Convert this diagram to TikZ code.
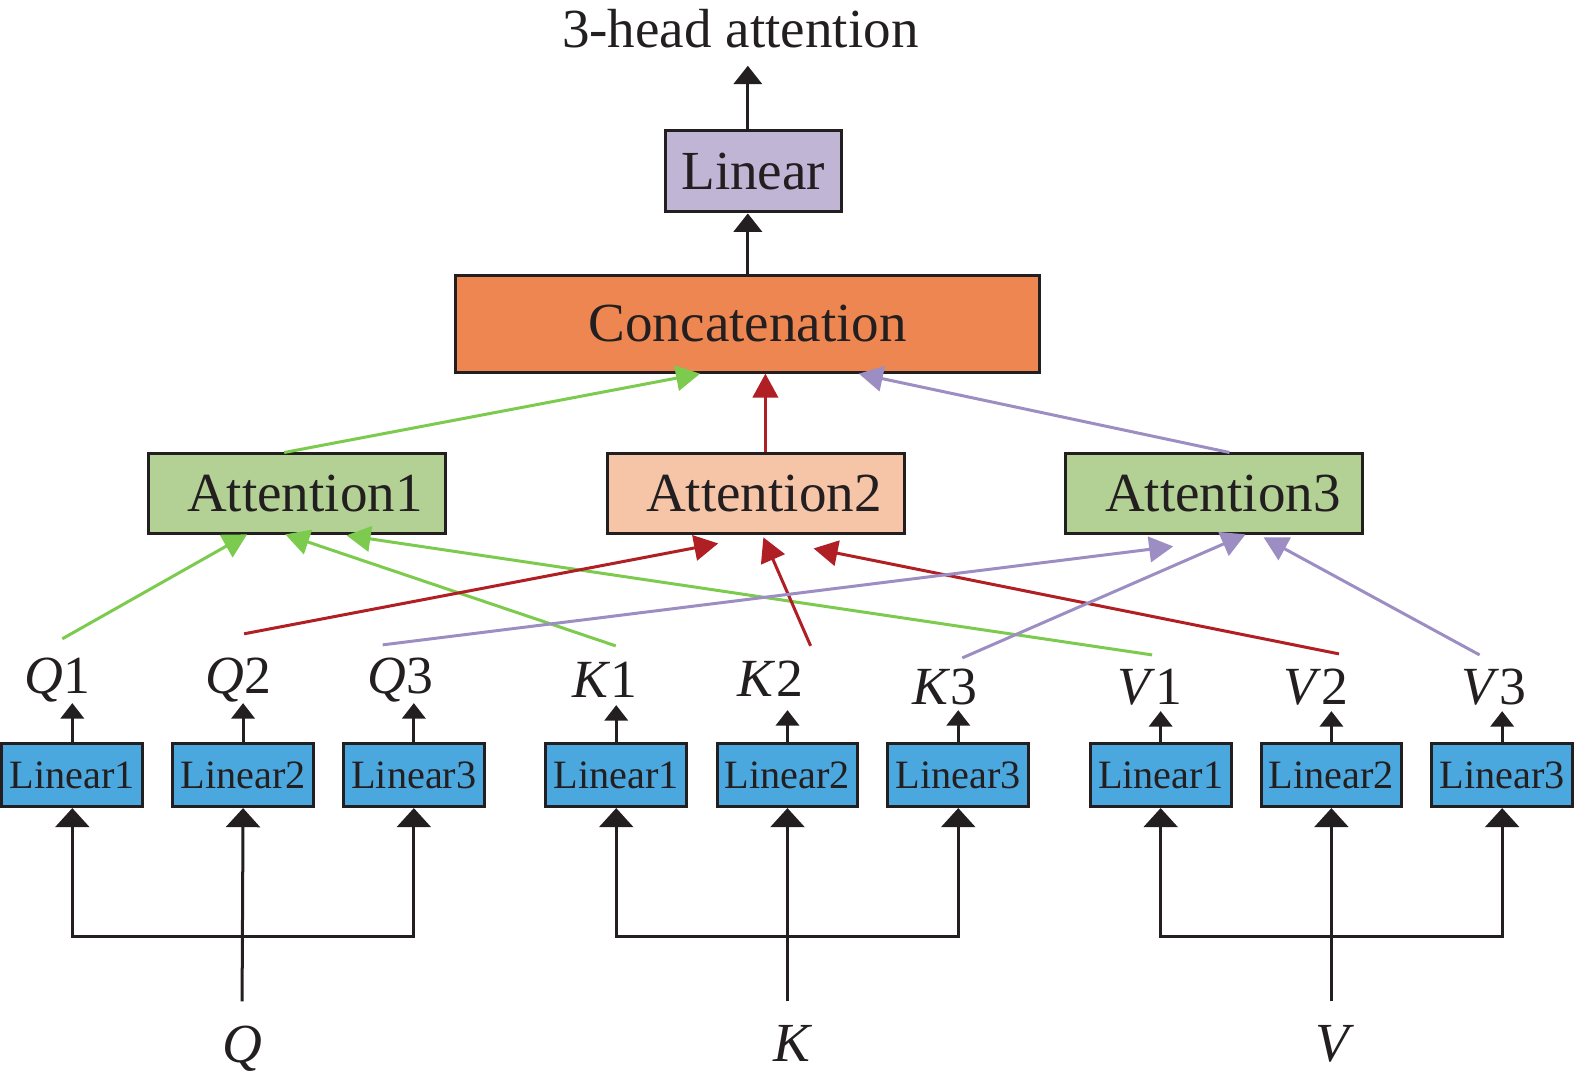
\documentclass[tikz,border=0pt]{standalone}
\usepackage{fontspec}
\setmainfont{Liberation Serif}
\usetikzlibrary{arrows.meta}
\definecolor{txt}{HTML}{231F20}
\definecolor{linblue}{HTML}{4BA8DE}
\definecolor{linpurple}{HTML}{C1B5D6}
\definecolor{concatc}{HTML}{ED8651}
\definecolor{attgreen}{HTML}{B3D194}
\definecolor{attpeach}{HTML}{F6C5A8}
\definecolor{lgreen}{HTML}{7CCB4F}
\definecolor{lred}{HTML}{AF1F24}
\definecolor{lpurple}{HTML}{9C8DC3}
\begin{document}
\begin{tikzpicture}[x=0.01cm,y=-0.01cm,
  bigfont/.style={font=\fontsize{15.6}{18}\selectfont},
  boxbase/.style={draw=txt, line width=0.85pt, inner sep=0pt, text=txt},
  linbox/.style={boxbase, fill=linblue, minimum width=1.40cm, minimum height=0.63cm, font=\fontsize{11.4}{13}\selectfont},
  attbox/.style={boxbase, bigfont, minimum width=2.95cm, minimum height=0.79cm},
  lbl/.style={inner sep=0pt, text=txt, font=\fontsize{15.2}{18}\selectfont, anchor=base},
  blksmall/.style={draw=txt, line width=0.85pt, -{Triangle[length=4.4pt,width=6.6pt]}},
  blkbig/.style={draw=txt, line width=0.85pt, -{Triangle[length=5.4pt,width=9.6pt]}},
  blkboth/.style={draw=txt, line width=0.85pt, {Triangle[length=5.4pt,width=9.6pt]}-{Triangle[length=5.4pt,width=9.6pt]}},
  blkmid/.style={draw=txt, line width=0.85pt, -{Triangle[length=5.2pt,width=8pt]}},
  colarr/.style={line width=0.85pt, -{Triangle[length=6.8pt,width=7.2pt]}},
  garr/.style={colarr, draw=lgreen, fill=lgreen},
  rarr/.style={colarr, draw=lred, fill=lred},
  parr/.style={colarr, draw=lpurple, fill=lpurple}
]
\useasboundingbox (0,0) rectangle (1568,1073);

% title and top boxes
\node[lbl, bigfont] (title) at (737,47) {3-head attention};
\node[boxbase, bigfont, fill=linpurple, minimum width=1.75cm, minimum height=0.81cm] (topl) at (750,170.5) {Linear};
\node[boxbase, bigfont, fill=concatc, minimum width=5.81cm, minimum height=0.97cm] (concat) at (744.5,322.5) {Concatenation};

\node[attbox, fill=attgreen] (att1) at (295.5,491.5) {\hspace*{0.16cm}Attention1};
\node[attbox, fill=attpeach] (att2) at (752.5,491.5) {\hspace*{0.16cm}Attention2};
\node[attbox, fill=attgreen] (att3) at (1208.5,491.5) {\hspace*{0.18cm}Attention3};

% linear boxes
\foreach \n/\x/\t/\ty in {lq1/72/Linear1/700, lq2/242/Linear2/700, lq3/412/Linear3/700,
                      lk1/613.5/Linear1/702, lk2/784/Linear2/707, lk3/954/Linear3/707,
                      lv1/1155.5/Linear1/708, lv2/1325.5/Linear2/708, lv3/1495.5/Linear3/708}
  {\node[linbox] (\n) at (\x,771.5) {\t};
   \draw[blksmall] (\n.north) -- (\n.north |- 0,\ty);}

% labels
\node[lbl] (q1) at (57,690) {\textit{Q}1};
\node[lbl] (q2) at (237,690) {\textit{Q}2};
\node[lbl] (q3) at (399,690) {\textit{Q}3};
\node[lbl] (k1) at (602,694) {\textit{K}1};
\node[lbl] (k2) at (767,693) {\textit{K}2};
\node[lbl] (k3) at (941,701) {\textit{K}3};
\node[lbl] (v1) at (1145,701) {\textit{V}1};
\node[lbl] (v2) at (1310,701) {\textit{V}2};
\node[lbl] (v3) at (1487,701) {\textit{V}3};

% bottom inputs
\node[lbl, bigfont] (qin) at (241,1058) {\textit{Q}};
\node[lbl, bigfont] (kin) at (790,1057) {\textit{K}};
\node[lbl, bigfont] (vin) at (1329,1057) {\textit{V}};
\coordinate (qbot) at (241,997);
\coordinate (kbot) at (784,997);
\coordinate (vbot) at (1325.5,997);
\coordinate (bar) at (0,932);

\draw[blkbig] (qbot) -- (lq2.south);
\draw[blkbig] (kbot) -- (lk2.south);
\draw[blkbig] (vbot) -- (lv2.south);
\draw[blkboth] (lq1.south) -- (lq1.south |- bar) -- (lq3.south |- bar) -- (lq3.south);
\draw[blkboth] (lk1.south) -- (lk1.south |- bar) -- (lk3.south |- bar) -- (lk3.south);
\draw[blkboth] (lv1.south) -- (lv1.south |- bar) -- (lv3.south |- bar) -- (lv3.south);

% top arrows
\draw[blkmid] (concat.north) -- (concat.north |- topl.south);
\draw[blkmid] (topl.north -| concat.north) -- ++(0,-63);

% attention -> concatenation
\coordinate (cg) at (697,372);
\coordinate (cr) at (762,372);
\coordinate (cp) at (855,372);
\draw[garr] ([xshift=-0.125cm]att1.north) -- (cg);
\draw[rarr] (att2.north -| cr) -- (cr);
\draw[parr] ([xshift=0.155cm]att3.north) -- (cp);

% starts of coloured connectors
\coordinate (sq1) at (62,636);
\coordinate (sq2) at (243,631);
\coordinate (sq3) at (381,642);
\coordinate (sk1) at (613,643);
\coordinate (sk2) at (807,643);
\coordinate (sk3) at (958,655);
\coordinate (sv1) at (1147,652);
\coordinate (sv2) at (1333,651);
\coordinate (sv3) at (1473,652);
% tips
\coordinate (t11) at (246,532);
\coordinate (t12) at (284,532);
\coordinate (t13) at (345,533);
\coordinate (t21) at (715,541);
\coordinate (t22) at (760,535);
\coordinate (t23) at (810,546);
\coordinate (t31) at (1168,544);
\coordinate (t32) at (1240,532);
\coordinate (t33) at (1258,535);

\draw[garr] (sq1) -- (t11);
\draw[garr] (sk1) -- (t12);
\draw[garr] (sv1) -- (t13);
\draw[rarr] (sq2) -- (t21);
\draw[rarr] (sk2) -- (t22);
\draw[rarr] (sv2) -- (t23);
\draw[parr] (sq3) -- (t31);
\draw[parr] (sk3) -- (t32);
\draw[parr] (sv3) -- (t33);
\end{tikzpicture}
\end{document}
